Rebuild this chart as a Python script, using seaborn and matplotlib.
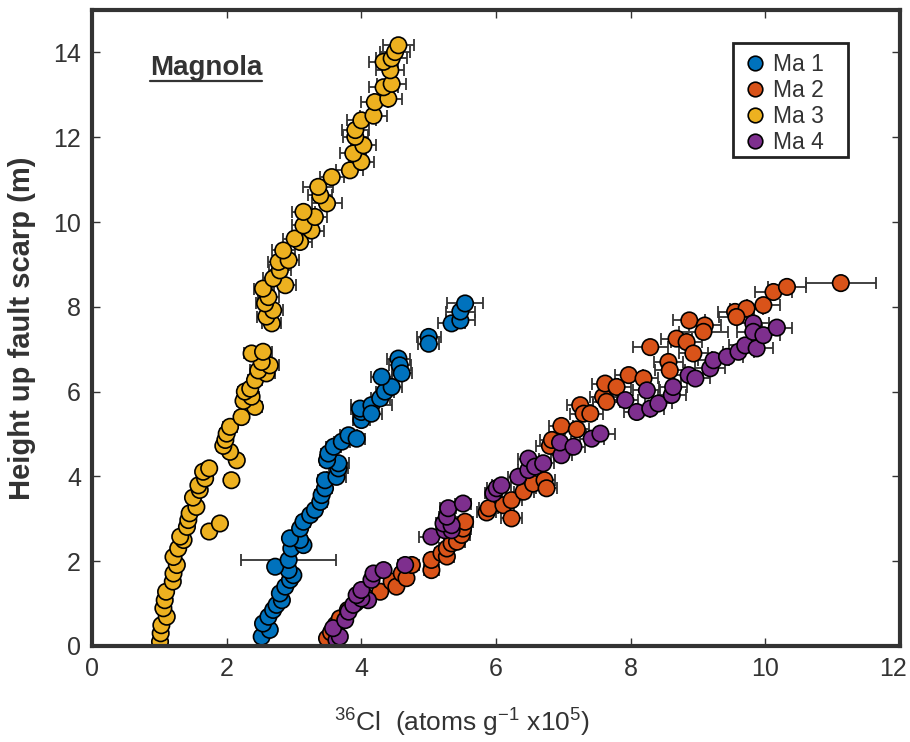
import matplotlib
matplotlib.use("Agg")
import numpy as np
import pandas as pd
import seaborn as sns
import matplotlib.pyplot as plt
from matplotlib.lines import Line2D
from matplotlib.patches import Rectangle
from matplotlib.transforms import Affine2D

series_names = ["Ma 1", "Ma 2", "Ma 3", "Ma 4"]
series_colors = ["#0072BD", "#D95319", "#EDB120", "#7E2F8E"]

ma1_x = [2.52, 2.64, 2.54, 2.62, 2.69, 2.74, 2.82, 2.79, 2.87, 2.94,
         2.99, 2.92, 2.72, 2.92, 2.96, 3.14, 3.09, 2.94, 3.09, 3.14,
         3.24, 3.31, 3.39, 3.41, 3.46, 3.46, 3.63, 3.66, 3.66, 3.49,
         3.51, 3.59, 3.71, 3.81, 3.93, 4.00, 4.00, 3.98, 4.15, 4.15,
         4.28, 4.35, 4.45, 4.30, 4.55, 4.57, 4.60, 5.00, 5.00, 5.34,
         5.47, 5.47, 5.54]
ma1_y = [0.22, 0.38, 0.53, 0.69, 0.85, 0.97, 1.08, 1.24, 1.40, 1.56,
         1.67, 1.79, 1.87, 2.03, 2.30, 2.38, 2.50, 2.54, 2.77, 2.93,
         3.09, 3.21, 3.40, 3.56, 3.72, 3.91, 3.99, 4.19, 4.31, 4.38,
         4.54, 4.70, 4.82, 4.97, 4.89, 5.33, 5.52, 5.60, 5.68, 5.48,
         5.84, 6.00, 6.11, 6.35, 6.78, 6.62, 6.43, 7.29, 7.13, 7.61,
         7.68, 7.89, 8.08]
ma1_err = [0.05, 0.05, 0.05, 0.06, 0.06, 0.06, 0.07, 0.06, 0.07, 0.07,
           0.07, 0.08, 0.07, 0.70, 0.08, 0.08, 0.08, 0.08, 0.09, 0.09,
           0.09, 0.09, 0.10, 0.10, 0.10, 0.10, 0.14, 0.14, 0.15, 0.10,
           0.11, 0.11, 0.12, 0.12, 0.12, 0.13, 0.13, 0.13, 0.30, 0.16,
           0.14, 0.14, 0.15, 0.15, 0.17, 0.16, 0.15, 0.18, 0.16, 0.20,
           0.22, 0.22, 0.27]

ma2_x = [3.49, 3.55, 3.62, 3.68, 3.80, 3.92, 4.05, 4.28, 4.45, 4.52,
         4.60, 4.67, 4.75, 5.04, 5.04, 5.19, 5.27, 5.27, 5.34, 5.42,
         5.49, 5.51, 5.54, 5.86, 5.89, 6.11, 6.23, 6.23, 6.41, 6.55,
         6.72, 6.75, 6.80, 6.83, 6.97, 7.20, 7.25, 7.30, 7.40, 7.59,
         7.62, 7.64, 7.79, 7.97, 8.19, 8.29, 8.56, 8.58, 8.68, 8.83,
         8.93, 8.87, 9.10, 9.08, 9.55, 9.72, 9.57, 9.97, 10.12, 10.32,
         11.12]
ma2_y = [0.18, 0.32, 0.50, 0.65, 0.85, 1.02, 1.18, 1.28, 1.52, 1.40,
         1.71, 1.60, 1.91, 1.79, 2.03, 2.19, 2.11, 2.30, 2.42, 2.46,
         2.62, 2.77, 2.93, 3.15, 3.25, 3.32, 3.01, 3.44, 3.64, 3.83,
         3.91, 3.72, 4.72, 4.86, 5.19, 5.11, 5.68, 5.48, 5.48, 5.88,
         6.19, 5.76, 6.11, 6.39, 6.31, 7.05, 6.70, 6.50, 7.25, 7.17,
         6.90, 7.68, 7.56, 7.41, 7.88, 7.96, 7.76, 8.04, 8.35, 8.47,
         8.56]
ma2_err = [0.05, 0.05, 0.06, 0.06, 0.06, 0.07, 0.07, 0.08, 0.09, 0.08,
           0.09, 0.09, 0.10, 0.11, 0.10, 0.10, 0.11, 0.11, 0.11, 0.12,
           0.12, 0.12, 0.12, 0.14, 0.14, 0.15, 0.15, 0.15, 0.15, 0.16,
           0.16, 0.16, 0.20, 0.17, 0.18, 0.18, 0.19, 0.20, 0.19, 0.20,
           0.19, 0.20, 0.21, 0.21, 0.22, 0.26, 0.22, 0.22, 0.23, 0.23,
           0.22, 0.24, 0.24, 0.36, 0.25, 0.25, 0.26, 0.25, 0.27, 0.28,
           0.52]

ma3_x = [1.01, 1.02, 1.03, 1.11, 1.06, 1.08, 1.10, 1.20, 1.21, 1.26,
         1.21, 1.28, 1.36, 1.31, 1.74, 1.41, 1.90, 1.43, 1.45, 1.55,
         1.50, 1.60, 1.58, 2.07, 1.68, 1.65, 1.74, 2.15, 2.05, 1.95,
         1.98, 2.00, 2.05, 2.22, 2.42, 2.25, 2.37, 2.27, 2.35, 2.42,
         2.59, 2.47, 2.64, 2.52, 2.37, 2.54, 2.67, 2.59, 2.69, 2.57,
         2.62, 2.54, 2.87, 2.69, 2.79, 2.77, 2.92, 2.84, 3.09, 3.01,
         3.26, 3.14, 3.31, 3.14, 3.49, 3.39, 3.36, 3.56, 3.83, 4.00,
         3.88, 4.03, 3.91, 3.91, 4.00, 4.18, 4.20, 4.40, 4.33, 4.45,
         4.43, 4.33, 4.45, 4.50, 4.55]
ma3_y = [0.10, 0.30, 0.49, 0.69, 0.89, 1.08, 1.28, 1.52, 1.71, 1.91,
         2.10, 2.30, 2.50, 2.58, 2.70, 2.81, 2.89, 2.97, 3.13, 3.28,
         3.50, 3.68, 3.79, 3.91, 3.95, 4.11, 4.19, 4.38, 4.58, 4.72,
         4.86, 5.01, 5.17, 5.40, 5.64, 5.78, 5.88, 6.00, 6.07, 6.27,
         6.43, 6.50, 6.62, 6.70, 6.90, 6.94, 7.61, 7.77, 7.92, 8.08,
         8.23, 8.43, 8.51, 8.67, 8.86, 9.06, 9.10, 9.33, 9.53, 9.61,
         9.80, 9.92, 10.12, 10.24, 10.44, 10.63, 10.83, 11.06, 11.22, 11.42,
         11.62, 11.81, 12.01, 12.17, 12.40, 12.51, 12.83, 12.91, 13.18, 13.26,
         13.58, 13.78, 13.86, 14.01, 14.17]
ma3_err = [0.05, 0.05, 0.05, 0.05, 0.05, 0.05, 0.05, 0.06, 0.06, 0.06,
           0.06, 0.06, 0.07, 0.07, 0.07, 0.07, 0.08, 0.07, 0.07, 0.08,
           0.08, 0.08, 0.08, 0.09, 0.08, 0.08, 0.09, 0.09, 0.09, 0.09,
           0.09, 0.10, 0.10, 0.10, 0.11, 0.10, 0.11, 0.10, 0.11, 0.11,
           0.13, 0.12, 0.13, 0.12, 0.12, 0.13, 0.14, 0.14, 0.15, 0.14,
           0.15, 0.14, 0.16, 0.15, 0.16, 0.16, 0.16, 0.17, 0.17, 0.17,
           0.18, 0.17, 0.18, 0.17, 0.22, 0.18, 0.22, 0.18, 0.20, 0.19,
           0.19, 0.18, 0.19, 0.20, 0.21, 0.20, 0.20, 0.21, 0.21, 0.22,
           0.21, 0.22, 0.23, 0.22, 0.23]

ma4_x = [3.63, 3.68, 3.58, 3.76, 3.81, 3.88, 4.10, 4.00, 3.93, 4.00,
         4.15, 4.18, 4.33, 4.65, 5.04, 5.24, 5.34, 5.22, 5.34, 5.27,
         5.29, 5.51, 5.96, 6.01, 6.08, 6.33, 6.48, 6.48, 6.58, 6.70,
         6.97, 6.95, 7.15, 7.42, 7.55, 7.92, 8.09, 8.24, 8.29, 8.41,
         8.61, 8.63, 8.86, 8.96, 9.18, 9.23, 9.43, 9.60, 9.70, 9.87,
         9.82, 9.82, 9.97, 10.17]
ma4_y = [0.14, 0.22, 0.42, 0.61, 0.81, 0.97, 1.08, 1.12, 1.20, 1.32,
         1.56, 1.71, 1.79, 1.91, 2.58, 2.73, 2.73, 2.89, 2.85, 3.05,
         3.25, 3.36, 3.60, 3.72, 3.79, 3.99, 4.15, 4.42, 4.23, 4.31,
         4.50, 4.80, 4.70, 4.89, 5.01, 5.80, 5.52, 6.03, 5.60, 5.72,
         5.92, 6.11, 6.39, 6.31, 6.55, 6.74, 6.82, 6.94, 7.09, 7.02,
         7.61, 7.41, 7.33, 7.51]
ma4_err = [0.05, 0.05, 0.05, 0.06, 0.06, 0.06, 0.07, 0.07, 0.06, 0.07,
           0.08, 0.08, 0.09, 0.10, 0.18, 0.11, 0.11, 0.11, 0.11, 0.11,
           0.12, 0.12, 0.13, 0.14, 0.14, 0.15, 0.15, 0.16, 0.15, 0.16,
           0.16, 0.17, 0.17, 0.18, 0.22, 0.19, 0.19, 0.20, 0.20, 0.20,
           0.21, 0.21, 0.22, 0.22, 0.22, 0.23, 0.23, 0.23, 0.24, 0.24,
           0.24, 0.24, 0.25, 0.22]

x_ticks = [0, 2, 4, 6, 8, 10, 12]
y_ticks = [0, 2, 4, 6, 8, 10, 12, 14]

frames = []
for name, xs, ys, es in zip(series_names,
                            [ma1_x, ma2_x, ma3_x, ma4_x],
                            [ma1_y, ma2_y, ma3_y, ma4_y],
                            [ma1_err, ma2_err, ma3_err, ma4_err]):
    frames.append(pd.DataFrame({"x": xs, "y": ys, "err": es, "series": name}))
df = pd.concat(frames, ignore_index=True)

sns.set_style("ticks")
plt.rcParams["font.family"] = ["Liberation Sans", "DejaVu Sans"]
plt.rcParams["mathtext.fontset"] = "custom"
plt.rcParams["mathtext.rm"] = "Liberation Sans"
plt.rcParams["mathtext.it"] = "Liberation Sans"
plt.rcParams["mathtext.bf"] = "Liberation Sans:bold"

dark = "#333333"
fig = plt.figure(figsize=(9.1, 7.42), dpi=100)
ax = fig.add_axes([0.1011, 0.1294, 0.888, 0.857])

for name in series_names:
    sub = df[df["series"] == name]
    ax.errorbar(sub["x"], sub["y"], xerr=sub["err"], fmt="none",
                ecolor=dark, elinewidth=1.3, capsize=4, capthick=1.3, zorder=1)

sns.scatterplot(data=df, x="x", y="y", hue="series", hue_order=series_names,
                palette=series_colors, s=140, edgecolor="black", linewidth=1.2,
                legend=False, ax=ax, zorder=2)

ax.set_xlim(0, 12)
ax.set_ylim(0, 15)
ax.set_xticks(x_ticks)
ax.set_yticks(y_ticks)
ax.set_xticklabels([str(t) for t in x_ticks])
ax.set_yticklabels([str(t) for t in y_ticks])
ax.tick_params(direction="in", length=6, width=1, top=True, right=True,
               colors=dark, labelsize=18, pad=8)
for sp in ax.spines.values():
    sp.set_linewidth(3)
    sp.set_color(dark)

ax.set_xlabel(r"$^{36}$Cl  (atoms g$^{-1}$ x10$^{5}$)", fontsize=19, color=dark)
ax.xaxis.set_label_coords(0.458, -0.095)
ax.set_ylabel("Height up fault scarp (m)", fontsize=21, fontweight="bold",
              color=dark, labelpad=12)

# keep the last x tick label inside the canvas
last_lbl = ax.xaxis.get_major_ticks()[-1].label1
last_lbl.set_transform(last_lbl.get_transform() + Affine2D().translate(-7, 0))

# legend frame box
ax.add_patch(Rectangle((0.793, 0.769), 0.143, 0.179, transform=ax.transAxes,
                       facecolor="white", edgecolor="#222222", linewidth=2,
                       zorder=5))
handles = [Line2D([0], [0], marker="o", linestyle="none", markerfacecolor=c,
                  markeredgecolor="black", markeredgewidth=1.2, markersize=10.5)
           for c in series_colors]
leg = ax.legend(handles, series_names, loc="upper left",
                bbox_to_anchor=(0.793, 0.948), borderaxespad=0,
                frameon=False, handletextpad=0.3, handlelength=1.0,
                labelspacing=0.12, borderpad=0.45, prop={"size": 16.5})
leg.set_zorder(6)
for t in leg.get_texts():
    t.set_color(dark)

mt = ax.text(0.86, 13.46, "Magnola", fontsize=20, fontweight="bold",
             color=dark, va="baseline", ha="left")
fig.canvas.draw()
bb = mt.get_window_extent()
inv = fig.transFigure.inverted()
(x0, y0), (x1, _) = inv.transform([(bb.x0, bb.y0), (bb.x1, bb.y0)])
fig.add_artist(Line2D([x0, x1], [y0 + 0.001, y0 + 0.001], transform=fig.transFigure,
                      color=dark, linewidth=1.6))

fig.savefig("out.png", dpi=100)
